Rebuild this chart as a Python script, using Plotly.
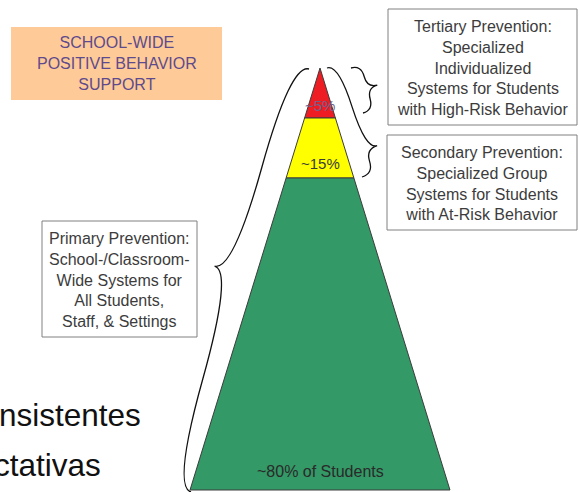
import math
import plotly.graph_objects as go

# ---------------- data ----------------
tiers = ["Tertiary", "Secondary", "Primary"]
tier_labels = ["~5%", "~15%", "~80% of Students"]
tier_colors = ["#EE1D23", "#FFFF00", "#339966"]
tier_label_colors = ["#6A6490", "#3A3A3A", "#2A2A2A"]
tier_label_sizes = [15, 15, 16]
# pyramid levels (top of each tier ... base), in chart units
tier_levels = [68, 118, 178, 490]
apex_x = 320
half_width_per_unit = 0.308
label_y = [105, 163, 471]

box_texts = [
    "Tertiary Prevention:<br>Specialized<br>Individualized<br>Systems for Students<br>with High-Risk Behavior",
    "Secondary Prevention:<br>Specialized Group<br>Systems for Students<br>with At-Risk Behavior",
    "Primary Prevention:<br>School-/Classroom-<br>Wide Systems for<br>All Students,<br>Staff, &amp; Settings",
]
box_rects = [(388, 9, 577, 125), (387, 135, 577, 230), (42, 221, 197, 337)]

title_text = "SCHOOL-WIDE<br>POSITIVE BEHAVIOR<br>SUPPORT"
title_rect = (11, 27, 222, 100)

side_words = ["nsistentes", "ctativas"]
side_word_pos = [(143, 415), (103, 465)]

# braces: (start, end, depth, tip fraction, side)
braces = [
    ((309, 69), (191, 492), 38, 0.49, 1),
    ((351, 68), (363, 113), 21, 0.50, -1),
    ((327, 68), (362, 177), 24, 0.78, -1),
]

FONT = "Liberation Sans, Arial, sans-serif"


def half_w(y):
    return (y - tier_levels[0]) * half_width_per_unit


def brace_path(p1, p2, w, t, side, q=0.5):
    x1, y1 = p1
    x2, y2 = p2
    L = math.hypot(x2 - x1, y2 - y1)
    ux, uy = (x2 - x1) / L, (y2 - y1) / L
    nx, ny = -uy * side, ux * side

    def pt(a, off):
        return (x1 + a * L * ux + off * nx, y1 + a * L * uy + off * ny)

    c1 = (x1 + q * w * nx, y1 + q * w * ny)
    e1 = pt(t / 2, (1 - q) * w)
    tip = pt(t, w)
    c1b = (2 * e1[0] - c1[0], 2 * e1[1] - c1[1])
    c2 = (x2 + q * w * nx, y2 + q * w * ny)
    e2 = pt((1 + t) / 2, (1 - q) * w)
    c2b = (2 * e2[0] - c2[0], 2 * e2[1] - c2[1])
    f = lambda p: f"{p[0]:.2f},{p[1]:.2f}"
    return (f"M{f(p1)} Q{f(c1)} {f(e1)} Q{f(c1b)} {f(tip)} "
            f"M{f(p2)} Q{f(c2)} {f(e2)} Q{f(c2b)} {f(tip)}")


fig = go.Figure()

# pyramid tiers
for i, name in enumerate(tiers):
    y0, y1 = tier_levels[i], tier_levels[i + 1]
    xs = [apex_x - half_w(y0), apex_x + half_w(y0), apex_x + half_w(y1), apex_x - half_w(y1), apex_x - half_w(y0)]
    ys = [y0, y0, y1, y1, y0]
    fig.add_trace(go.Scatter(x=xs, y=ys, mode="lines", fill="toself",
                             fillcolor=tier_colors[i], line=dict(color="#3c3c3c", width=1),
                             hoverinfo="skip", name=name))
    fig.add_annotation(x=apex_x, y=label_y[i], text=tier_labels[i], showarrow=False,
                       font=dict(family=FONT, size=tier_label_sizes[i], color=tier_label_colors[i]))

# title box
fig.add_shape(type="rect", x0=title_rect[0], y0=title_rect[1], x1=title_rect[2], y1=title_rect[3],
              fillcolor="#FDCA98", line=dict(width=0), layer="below")
fig.add_annotation(x=(title_rect[0] + title_rect[2]) / 2, y=(title_rect[1] + title_rect[3]) / 2,
                   text=title_text, showarrow=False,
                   font=dict(family=FONT, size=16, color="#5E4A8C"))

# description boxes
for (x0, y0, x1, y1), txt in zip(box_rects, box_texts):
    fig.add_shape(type="rect", x0=x0, y0=y0, x1=x1, y1=y1,
                  line=dict(color="#808080", width=1), fillcolor="white")
    fig.add_annotation(x=(x0 + x1) / 2, y=(y0 + y1) / 2 + 1, text=txt, showarrow=False,
                       font=dict(family=FONT, size=16, color="#3C3C3C"))

# braces
for p1, p2, w, t, side in braces:
    fig.add_shape(type="path", path=brace_path(p1, p2, w, t, side),
                  line=dict(color="#111111", width=1.3))

# partial slide words
for word, (x, y) in zip(side_words, side_word_pos):
    fig.add_annotation(x=x, y=y, text=word, showarrow=False, xanchor="right",
                       font=dict(family=FONT, size=31.5, color="#111111"))

fig.update_layout(
    width=579, height=492, margin=dict(l=0, r=0, t=0, b=0),
    paper_bgcolor="white", plot_bgcolor="white", showlegend=False,
    xaxis=dict(range=[0, 579], visible=False, fixedrange=True),
    yaxis=dict(range=[492, 0], visible=False, fixedrange=True),
)

fig.write_html("out.html", config={"displayModeBar": False},
               post_script="document.body.style.margin='0';document.body.style.padding='0';")
